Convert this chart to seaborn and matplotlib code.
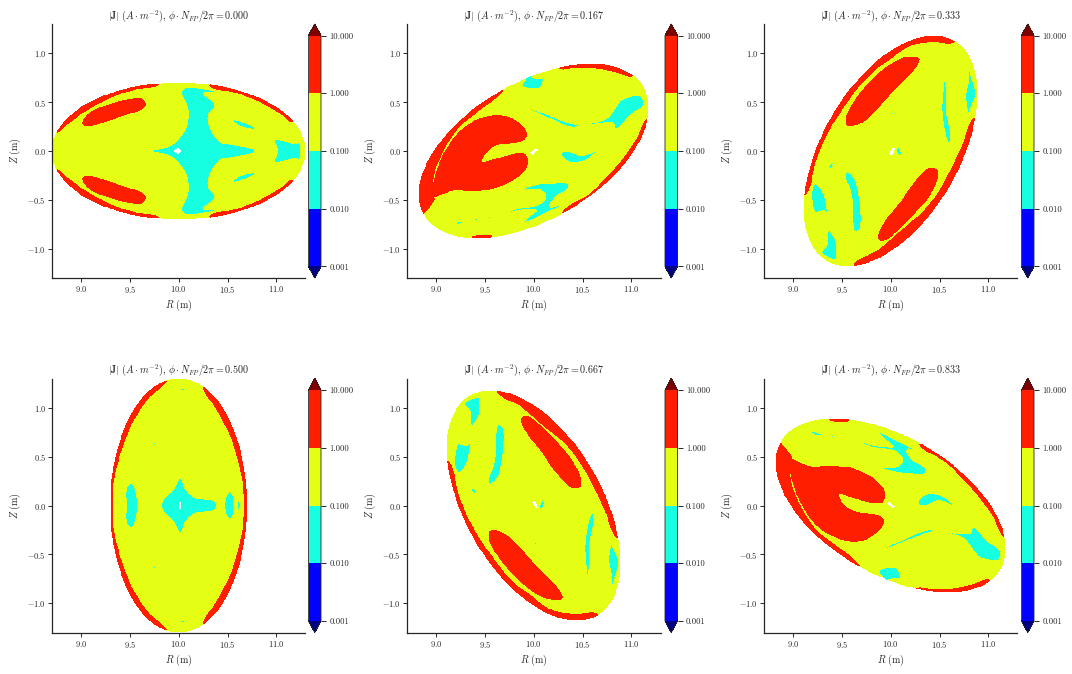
import numpy as np
import matplotlib
matplotlib.use("Agg")
import matplotlib.pyplot as plt
from matplotlib.colors import LogNorm
from matplotlib.patches import Ellipse
from matplotlib.path import Path
import seaborn as sns

# Contour levels of |J| and the value representing each filled band
levels = [0.001, 0.01, 0.1, 1.0, 10.0]
BLUE, CYAN, YELLOW, RED = 0.003, 0.03, 0.3, 3.0
phases = [0.000, 0.167, 0.333, 0.500, 0.667, 0.833]
x_ticks = [9.0, 9.5, 10.0, 10.5, 11.0]
y_ticks = [-1.0, -0.5, 0.0, 0.5, 1.0]

# Rotating elliptical cross-section of the boundary (metres)
axis_R = 10.0
long_axis = 2.6
short_axis = 1.4


def with_lower(upper):
    """Close an upper-half outline with its reflection through Z = 0."""
    return upper + [(r, -z) for r, z in reversed(upper) if z != 0]


def flip(points):
    """Reflect an outline through Z = 0 (stellarator symmetry)."""
    return [(r, -z) for r, z in points]


# --- phi = 0.000 : (R, Z) outlines of the band regions -----------------------
red_000_left = [(8.76, 0.20), (8.86, 0.285), (9.03, 0.405), (9.27, 0.54), (9.54, 0.633),
                (9.805, 0.694), (9.805, 0.9), (8.6, 0.9), (8.6, 0.20)]
red_000_right = [(10.32, 0.67), (10.56, 0.61), (10.80, 0.525), (11.04, 0.39), (11.17, 0.303),
                 (11.4, 0.4), (10.9, 0.9), (10.32, 0.9)]
red_000_lobe = [(9.017, 0.293), (9.096, 0.388), (9.266, 0.463), (9.471, 0.517), (9.625, 0.524),
                (9.652, 0.473), (9.608, 0.429), (9.437, 0.371), (9.232, 0.303), (9.096, 0.262),
                (9.027, 0.265)]
cyan_000_core = with_lower([(9.686, 0.0), (9.795, 0.024), (9.915, 0.054), (10.017, 0.15), (10.068, 0.235),
                            (10.092, 0.388), (10.068, 0.49), (10.027, 0.592), (10.051, 0.646),
                            (10.256, 0.639), (10.427, 0.599), (10.256, 0.592), (10.358, 0.507),
                            (10.375, 0.456), (10.307, 0.371), (10.324, 0.235), (10.427, 0.099),
                            (10.597, 0.058), (10.785, 0.014), (10.785, 0.0)])
cyan_000_spot = [(10.553, 0.32), (10.614, 0.313), (10.785, 0.235), (10.775, 0.218), (10.666, 0.241),
                 (10.563, 0.296)]
cyan_000_tip = with_lower([(11.007, 0.0), (10.98, 0.116), (11.11, 0.099), (11.195, 0.075), (11.235, 0.099),
                           (11.245, 0.0)])
cyan_000_dot = [(8.73, 0.012), (8.755, 0.012), (8.755, -0.012), (8.73, -0.012)]
hole_000 = [(9.945, 0.0), (9.97, 0.022), (10.01, 0.022), (10.027, 0.0), (10.01, -0.022), (9.97, -0.022)]

# --- phi = 0.167 -------------------------------------------------------------
red_167_top = [(10.256, 0.854), (10.437, 0.86), (10.607, 0.857), (10.812, 0.823), (11.017, 0.772),
               (11.02, 1.0), (10.25, 1.0)]
red_167_right = [(11.16, 0.313), (11.068, 0.133), (10.915, -0.088), (10.761, -0.259), (10.573, -0.446),
                 (10.30, -0.626), (10.35, -0.72), (11.3, 0.0), (11.3, 0.33)]
red_167_foot = [(9.38, -0.872), (9.56, -0.868), (9.57, -0.95), (9.38, -0.95)]
red_167_band = [(9.686, 0.633), (9.396, 0.388), (9.259, 0.279), (9.147, 0.143), (9.031, -0.071),
                (8.962, -0.276), (8.962, -0.463), (8.976, -0.48), (8.86, -0.639), (8.6, -0.7),
                (8.6, 0.7), (9.686, 0.75)]
red_167_lobe = [(8.976, -0.463), (8.986, -0.293), (9.055, -0.088), (9.174, 0.116), (9.311, 0.252),
                (9.481, 0.337), (9.618, 0.361), (9.754, 0.337), (9.891, 0.235), (9.925, 0.167),
                (9.891, 0.116), (9.754, 0.088), (9.618, 0.065), (9.515, -0.003), (9.464, -0.088),
                (9.464, -0.122), (9.584, -0.095), (9.754, -0.048), (9.891, -0.027), (9.935, -0.088),
                (9.908, -0.19), (9.754, -0.31), (9.584, -0.378), (9.379, -0.401), (9.174, -0.395),
                (9.038, -0.446)]
cyan_167_a = [(9.874, 0.677), (9.959, 0.762), (10.027, 0.745), (10.102, 0.745), (10.061, 0.643),
              (9.942, 0.636)]
cyan_167_b = [(10.481, 0.568), (10.532, 0.558), (10.532, 0.545), (10.481, 0.552)]
cyan_167_c = [(9.925, 0.449), (10.061, 0.405), (10.232, 0.337), (10.369, 0.286), (10.478, 0.259),
              (10.403, 0.245), (10.30, 0.268), (10.164, 0.33), (10.027, 0.39), (9.942, 0.43)]
cyan_167_d = [(10.539, 0.269), (10.744, 0.337), (10.846, 0.456), (10.898, 0.524), (11.102, 0.565),
              (11.126, 0.463), (11.0, 0.371), (10.846, 0.218), (10.812, 0.286), (10.676, 0.279)]
cyan_167_e = [(10.276, -0.037), (10.317, 0.003), (10.403, -0.014), (10.488, -0.048), (10.648, 0.003),
              (10.573, -0.071), (10.471, -0.116), (10.369, -0.116), (10.307, -0.082)]
cyan_167_f = [(9.891, -0.384), (10.027, -0.344), (10.164, -0.327), (10.352, -0.327), (10.362, -0.378),
              (10.232, -0.463), (10.164, -0.571), (10.334, -0.541), (10.164, -0.616), (9.993, -0.701),
              (9.874, -0.752), (9.993, -0.633), (10.027, -0.605), (9.857, -0.612), (9.669, -0.655),
              (9.823, -0.59), (10.027, -0.558), (10.113, -0.497), (10.123, -0.446), (10.044, -0.395)]
cyan_167_g = [(9.157, -0.765), (9.22, -0.72), (9.33, -0.72), (9.24, -0.75)]
cyan_167_h = [(9.39, -0.695), (9.425, -0.69), (9.425, -0.712), (9.39, -0.715)]
cyan_167_i = [(9.53, -0.675), (9.565, -0.665), (9.565, -0.685), (9.53, -0.695)]
hole_167 = [(9.96, -0.02), (10.02, 0.03), (10.05, 0.01), (9.985, -0.042)]

# --- phi = 0.333 -------------------------------------------------------------
red_333_top = [(9.114, -0.456), (9.24, -0.054), (9.385, 0.252), (9.59, 0.558), (9.79, 0.796),
               (9.97, 0.93), (10.179, 1.075), (10.418, 1.119), (10.657, 1.119), (10.7, 1.4),
               (9.0, 1.4), (8.9, -0.5)]
red_333_low = [(10.855, 0.327), (10.75, 0.082), (10.64, -0.156), (10.49, -0.429), (10.33, -0.633),
               (10.111, -0.815), (9.872, -1.02), (9.626, -1.167), (9.65, -1.35), (10.6, -0.7),
               (11.1, 0.35)]
red_333_lobe_a = [(9.541, 0.286), (9.565, 0.388), (9.667, 0.558), (9.804, 0.711), (9.974, 0.864),
                  (10.145, 0.949), (10.282, 0.949), (10.264, 0.881), (10.145, 0.745), (10.009, 0.609),
                  (9.872, 0.456), (9.735, 0.32), (9.633, 0.269), (9.565, 0.262)]
red_333_lobe_b = [(9.879, -0.871), (9.94, -0.735), (10.077, -0.565), (10.247, -0.327), (10.384, -0.19),
                  (10.469, -0.197), (10.469, -0.293), (10.384, -0.463), (10.213, -0.667),
                  (10.077, -0.803), (9.94, -0.905), (9.889, -0.905)]
cyan_333_a = [(10.80, 0.864), (10.827, 0.762), (10.872, 0.575), (10.827, 0.456), (10.794, 0.388),
              (10.766, 0.558), (10.794, 0.728)]
cyan_333_b = [(10.555, 0.755), (10.579, 0.592), (10.579, 0.388), (10.616, 0.184), (10.606, 0.075),
              (10.579, 0.099), (10.527, 0.388), (10.537, 0.626)]
cyan_333_c = [(9.99, 0.365), (10.022, 0.41), (10.025, 0.38), (10.0, 0.34)]
cyan_333_e = [(10.05, 0.018), (10.088, 0.04), (10.115, -0.03), (10.085, -0.058)]
cyan_333_f = [(9.355, -0.156), (9.394, -0.112), (9.416, -0.139), (9.377, -0.195)]
cyan_333_g = [(9.531, -0.259), (9.548, -0.214), (9.599, -0.241), (9.661, -0.361), (9.684, -0.803),
              (9.633, -0.827), (9.616, -0.769), (9.599, -0.463)]
cyan_333_h = [(9.19, -0.429), (9.224, -0.333), (9.299, -0.401), (9.343, -0.565), (9.367, -0.673),
              (9.309, -0.616), (9.224, -0.633), (9.197, -0.531)]
cyan_333_i = [(9.292, -1.041), (9.343, -0.956), (9.36, -0.81), (9.43, -0.905), (9.454, -1.041),
              (9.44, -1.109), (9.36, -1.092)]
hole_333 = [(9.975, -0.03), (10.02, 0.035), (10.05, 0.025), (10.02, -0.05)]

# --- phi = 0.500 -------------------------------------------------------------
red_500_left = with_lower([(8.9, 1.4), (9.87, 1.4), (9.87, 1.279), (9.676, 1.092), (9.512, 0.837),
                           (9.395, 0.531), (9.328, 0.259), (9.317, 0.0)])
red_500_right = with_lower([(11.0, 1.4), (10.256, 1.4), (10.256, 1.21), (10.40, 0.973), (10.54, 0.70),
                            (10.63, 0.395), (10.676, 0.122), (10.683, 0.0)])
cyan_500_cap = [(10.01, 1.205), (10.07, 1.2), (10.055, 1.17), (10.02, 1.175)]
cyan_500_fleck = [(9.725, 0.60), (9.76, 0.68), (9.765, 0.64), (9.74, 0.595)]
cyan_500_left = with_lower([(9.457, 0.0), (9.464, 0.19), (9.505, 0.231), (9.539, 0.207), (9.584, 0.0)])
cyan_500_core = with_lower([(9.823, 0.0), (9.846, 0.071), (9.932, 0.156), (10.017, 0.286), (10.068, 0.173),
                            (10.154, 0.088), (10.256, 0.071), (10.358, 0.054), (10.392, 0.0)])
cyan_500_oval = with_lower([(10.468, 0.0), (10.488, 0.105), (10.519, 0.146), (10.553, 0.105), (10.57, 0.0)])
cyan_500_thin = [(10.595, 0.0), (10.614, 0.115), (10.632, 0.0), (10.614, -0.115)]
blue_500_dot = [(10.035, 0.007), (10.045, 0.007), (10.045, -0.007), (10.035, -0.007)]
hole_500 = [(10.0, 0.04), (10.025, 0.04), (10.025, -0.04), (10.0, -0.04)]

# Regions per band for each plane, plus the unresolved cell on the magnetic axis
sections = [
    dict(red=[red_000_left, red_000_right, red_000_lobe, flip(red_000_left), flip(red_000_right), flip(red_000_lobe)],
         cyan=[cyan_000_core, cyan_000_spot, flip(cyan_000_spot), cyan_000_tip, cyan_000_dot],
         blue=[], hole=[hole_000]),
    dict(red=[red_167_top, red_167_right, red_167_foot, red_167_band, red_167_lobe],
         cyan=[cyan_167_a, cyan_167_b, cyan_167_c, cyan_167_d, cyan_167_e, cyan_167_f, cyan_167_g, cyan_167_h, cyan_167_i],
         blue=[], hole=[hole_167]),
    dict(red=[red_333_top, red_333_low, red_333_lobe_a, red_333_lobe_b],
         cyan=[cyan_333_a, cyan_333_b, cyan_333_c, cyan_333_e, cyan_333_f, cyan_333_g, cyan_333_h, cyan_333_i],
         blue=[], hole=[hole_333]),
    dict(red=[red_500_left, red_500_right],
         cyan=[cyan_500_cap, flip(cyan_500_cap), cyan_500_fleck, flip(cyan_500_fleck), cyan_500_left,
               cyan_500_core, cyan_500_oval, cyan_500_thin],
         blue=[blue_500_dot], hole=[hole_500]),
]
# The last two planes are the up-down reflections of phi = 0.333 and phi = 0.167
for source in (sections[2], sections[1]):
    sections.append({key: [flip(p) for p in val] for key, val in source.items()})

sns.set_theme(style="ticks")
plt.rcParams.update({
    "font.family": ["cmr10", "DejaVu Serif"],
    "mathtext.fontset": "cm",
    "axes.formatter.use_mathtext": True,
    "axes.unicode_minus": False,
    "axes.linewidth": 0.9,
    "xtick.major.size": 2.6,
    "ytick.major.size": 2.6,
    "xtick.major.width": 0.7,
    "ytick.major.width": 0.7,
})

W, H = 1072, 674
fig = plt.figure(figsize=(W / 100, H / 100), dpi=100)

R_axis = np.linspace(8.7, 11.3, 280)
Z_axis = np.linspace(-1.3, 1.3, 280)
RR, ZZ = np.meshgrid(R_axis, Z_axis)
grid = np.column_stack([RR.ravel(), ZZ.ravel()])


def rounded(points, steps=6):
    """Round a closed outline with a centripetal spline through its vertices."""
    pts = np.asarray(points, dtype=float)
    n = len(pts)
    if n < 5:
        return pts
    out = []
    for i in range(n):
        p0, p1, p2, p3 = pts[i - 1], pts[i], pts[(i + 1) % n], pts[(i + 2) % n]
        t1 = np.linalg.norm(p1 - p0) ** 0.5 + 1e-9
        t2 = t1 + np.linalg.norm(p2 - p1) ** 0.5 + 1e-9
        t3 = t2 + np.linalg.norm(p3 - p2) ** 0.5 + 1e-9
        for t in np.linspace(t1, t2, steps, endpoint=False):
            a1 = ((t1 - t) * p0 + t * p1) / t1
            a2 = ((t2 - t) * p1 + (t - t1) * p2) / (t2 - t1)
            a3 = ((t3 - t) * p2 + (t - t2) * p3) / (t3 - t2)
            b1 = ((t2 - t) * a1 + t * a2) / t2
            b2 = ((t3 - t) * a2 + (t - t1) * a3) / (t3 - t1)
            out.append(((t2 - t) * b1 + (t - t1) * b2) / (t2 - t1))
    return np.array(out)


def inside(points):
    outline = rounded(points)
    return Path(np.vstack([outline, outline[:1]])).contains_points(grid).reshape(RR.shape)


def band_field(section, phase):
    """Fill the R-Z grid with the value of the band each node falls into."""
    shell = Ellipse((axis_R, 0.0), long_axis, short_axis, angle=180.0 * phase)
    unit = shell.get_patch_transform().inverted().transform(grid)
    inner = (np.hypot(unit[:, 0], unit[:, 1]) <= 1.0).reshape(RR.shape)
    field = np.full(RR.shape, np.nan)
    field[inner] = YELLOW
    for name, value in (("red", RED), ("cyan", CYAN), ("blue", BLUE)):
        for region in section[name]:
            field[inside(region)] = value
    for region in section["hole"]:
        field[inside(region)] = np.nan
    field[~inner] = np.nan
    return np.ma.masked_invalid(field)


col_left = [52, 407, 764]
cbar_left = [308.5, 665, 1021.5]
row_top = [24, 378.5]
ax_w, ax_h, cb_w = 253.5, 254, 12.5

for i, (phase, section) in enumerate(zip(phases, sections)):
    row, col = divmod(i, 3)
    left, top = col_left[col], row_top[row]
    ax = fig.add_axes([left / W, 1 - (top + ax_h) / H, ax_w / W, ax_h / H])
    cax = fig.add_axes([cbar_left[col] / W, 1 - (top + ax_h) / H, cb_w / W, ax_h / H])

    filled = ax.contourf(RR, ZZ, band_field(section, phase), levels=levels, norm=LogNorm(1e-3, 10),
                         cmap="jet", extend="both")
    ax.set_xlim(8.7, 11.3)
    ax.set_ylim(-1.3, 1.3)
    ax.set_xticks(x_ticks)
    ax.set_yticks(y_ticks)
    ax.tick_params(labelsize=6, pad=1.8)
    ax.set_xlabel(r"$R\ \mathrm{(m)}$", fontsize=7.2, labelpad=2)
    ax.set_ylabel(r"$Z\ \mathrm{(m)}$", fontsize=7.2, labelpad=3)
    ax.set_title(rf"$|\mathbf{{J}}|\ (A \cdot m^{{-2}}),\,\phi \cdot N_{{FP}}/2\pi = {phase:.3f}$",
                 fontsize=7.2, pad=4)
    sns.despine(ax=ax)

    cbar = fig.colorbar(filled, cax=cax, ticks=levels, format="%.3f")
    cbar.minorticks_off()
    cbar.ax.tick_params(labelsize=6.3, length=3.5, width=0.7, pad=2.5)
    cbar.outline.set_linewidth(0.6)

fig.savefig("out.png", dpi=100)
